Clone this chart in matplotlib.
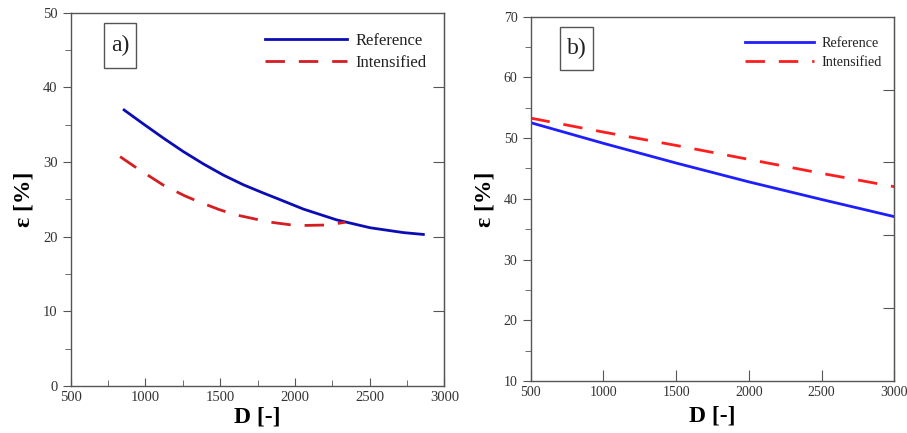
import matplotlib
matplotlib.use("Agg")
import matplotlib.pyplot as plt
from matplotlib.ticker import MultipleLocator
from matplotlib.patches import Rectangle

plt.rcParams['font.family'] = ['Liberation Serif', 'DejaVu Serif']

# Panel a)
a_ref_D = [857, 986, 1120, 1253, 1387, 1521, 1655, 1788, 1889, 2056, 2279, 2502, 2725, 2859]
a_ref_E = [36.97, 35.1, 33.2, 31.4, 29.75, 28.25, 26.95, 25.85, 25.05, 23.7, 22.25, 21.2, 20.55, 20.3]
a_int_D = [830, 919, 1042, 1120, 1265, 1354, 1488, 1588, 1733, 1833, 1967, 2056, 2223, 2335]
a_int_E = [30.72, 29.5, 27.9, 26.9, 25.45, 24.7, 23.67, 23.0, 22.37, 21.95, 21.6, 21.5, 21.57, 21.93]

# Panel b)
b_D = [500, 1000, 1500, 2000, 2500, 3000]
b_ref_E = [52.55, 49.15, 45.9, 42.8, 39.9, 37.07]
b_int_E = [53.3, 51.0, 48.8, 46.5, 44.2, 42.0]

labels = ["Reference", "Intensified"]
panel_tags = ["a)", "b)"]

fig = plt.figure(figsize=(9.07, 4.33), dpi=100)
ax1 = fig.add_axes([0.078, 0.1085, 0.412, 0.8622])
ax2 = fig.add_axes([0.585, 0.120, 0.401, 0.8415])

spine_col = "#555555"
def style(ax, ls):
    for s in ax.spines.values():
        s.set_color(spine_col)
        s.set_linewidth(1.0)
    ax.tick_params(colors="#333333", labelsize=ls, length=6, width=0.8)

# Panel a
ax1.plot(a_ref_D, a_ref_E, color="#0c0cb4", lw=2.0, label=labels[0])
ax1.plot(a_int_D, a_int_E, color="#d41e22", lw=2.0, dashes=(7, 5), label=labels[1])
ax1.set_xlim(500, 3000)
ax1.set_ylim(0, 50)
ax1.xaxis.set_major_locator(MultipleLocator(500))
ax1.xaxis.set_minor_locator(MultipleLocator(250))
ax1.yaxis.set_major_locator(MultipleLocator(10))
ax1.yaxis.set_minor_locator(MultipleLocator(5))
style(ax1, 10.5)
ax1.tick_params(axis='x', which='both', direction='in', color=spine_col)
ax1.tick_params(axis='x', which='minor', length=4)
ax1.tick_params(axis='y', which='both', direction='out', color=spine_col)
ax1.tick_params(axis='y', which='minor', length=4)
sec1 = ax1.secondary_yaxis('right')
sec1.set_yticks([10, 20, 30, 40])
sec1.tick_params(direction='in', length=8, labelright=False, color=spine_col)
sec1.spines['right'].set_color(spine_col)

# Panel b
ax2.plot(b_D, b_ref_E, color="#1e1eff", lw=2.0, label=labels[0])
ax2.plot(b_D, b_int_E, color="#ff1e1e", lw=2.0, dashes=(7, 5), label=labels[1])
ax2.set_xlim(500, 3000)
ax2.set_ylim(10, 70)
ax2.xaxis.set_major_locator(MultipleLocator(500))
ax2.yaxis.set_major_locator(MultipleLocator(10))
ax2.yaxis.set_minor_locator(MultipleLocator(5))
style(ax2, 10)
ax2.tick_params(axis='x', which='both', direction='in', length=8, color=spine_col)
ax2.tick_params(axis='y', which='both', direction='out', color=spine_col)
ax2.tick_params(axis='y', which='minor', length=4)
sec2 = ax2.secondary_yaxis('right')
sec2.set_yticks([22, 34, 46, 58])
sec2.tick_params(direction='in', length=8, labelright=False, color=spine_col)
sec2.spines['right'].set_color(spine_col)

boxes = [(0.089, 0.852, 0.086, 0.120), (0.081, 0.854, 0.090, 0.119)]
legpos = [(0.52, 0.946, 12, 4.9, 0.35), (0.589, 0.944, 10.2, 4.9, 0.45)]
xlpad = [2, 5]
for ax, tag, bx, lp, xp in zip([ax1, ax2], panel_tags, boxes, legpos, xlpad):
    ax.set_xlabel("D [-]", fontsize=17, fontweight='bold', labelpad=xp)
    ax.set_ylabel("ɛ [%]", fontsize=17, fontweight='bold', labelpad=6)
    ax.add_patch(Rectangle((bx[0], bx[1]), bx[2], bx[3], transform=ax.transAxes,
                           fill=False, ec='#555555', lw=1.0, zorder=5))
    ax.text(bx[0] + bx[2] / 2, bx[1] + bx[3] / 2, tag, transform=ax.transAxes,
            fontsize=17, ha='center', va='center', color="#222222")
    leg = ax.legend(loc='upper left', bbox_to_anchor=(lp[0], lp[1]), frameon=False,
                    fontsize=lp[2], handlelength=lp[3], handletextpad=0.5,
                    labelspacing=lp[4], borderpad=0, borderaxespad=0)
    for t in leg.get_texts():
        t.set_color("#222222")

fig.savefig("out.png", dpi=100)
